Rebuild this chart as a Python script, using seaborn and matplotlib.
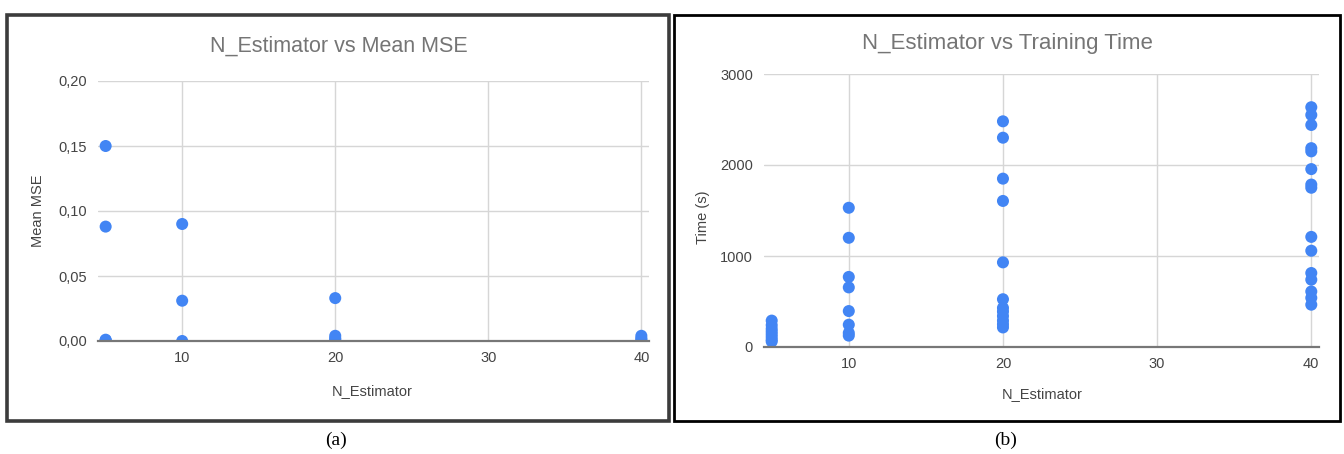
import matplotlib
matplotlib.use("Agg")
import matplotlib.pyplot as plt
import matplotlib.patches as mpatches
from matplotlib.ticker import FuncFormatter
import pandas as pd
import seaborn as sns

# Mean MSE per number of estimators
mse_n = [5, 5, 5, 5, 5, 10, 10, 10, 20, 20, 20, 20, 40, 40, 40]
mse_vals = [0.150, 0.088, 0.001, 0.0005, 0.0,
            0.090, 0.031, 0.0,
            0.033, 0.004, 0.002, 0.001,
            0.004, 0.002, 0.001]

# Training time (s) per number of estimators
time_n = ([5] * 8) + ([10] * 8) + ([20] * 12) + ([40] * 15)
time_vals = [290, 240, 200, 170, 140, 110, 80, 60,
             1530, 1200, 770, 655, 395, 245, 155, 125,
             2480, 2300, 1850, 1605, 930, 525, 430, 390, 340, 290, 250, 215,
             2635, 2550, 2440, 2185, 2150, 1955, 1785, 1750, 1210, 1058,
             813, 740, 610, 540, 465]

x_ticks = [10, 20, 30, 40]
mse_ticks = [0.0, 0.05, 0.10, 0.15, 0.20]
time_ticks = [0, 1000, 2000, 3000]

mse_df = pd.DataFrame({"N_Estimator": mse_n, "Mean MSE": mse_vals})
time_df = pd.DataFrame({"N_Estimator": time_n, "Time (s)": time_vals})

sns.set_theme(style="white")
plt.rcParams["font.family"] = ["Liberation Sans", "DejaVu Sans"]

W, H = 1344, 454
fig = plt.figure(figsize=(W / 100, H / 100), dpi=100)
fig.patch.set_facecolor("white")


def fig_rect(x0, y0, x1, y1):
    """Pixel box (top-left origin) -> figure-fraction rect."""
    return [x0 / W, 1 - y1 / H, (x1 - x0) / W, (y1 - y0) / H]


def fig_pt(x, y):
    return x / W, 1 - y / H


BLUE = "#4285F4"
GRID = "#d6d6d6"
TICK = "#444444"
TITLE = "#757575"


def style_axes(ax, yticks, yfmt, ymax):
    ax.set_xlim(4.5, 40.5)
    ax.set_ylim(0, ymax)
    ax.set_xticks(x_ticks)
    ax.set_yticks(yticks)
    ax.yaxis.set_major_formatter(FuncFormatter(yfmt))
    ax.grid(True, color=GRID, linewidth=1.0)
    ax.set_axisbelow(True)
    for side in ("top", "right", "left"):
        ax.spines[side].set_visible(False)
    ax.spines["bottom"].set_color("#777777")
    ax.spines["bottom"].set_linewidth(1.6)
    ax.spines["bottom"].set_zorder(5)
    ax.tick_params(axis="both", length=0, labelsize=10.5, colors=TICK)
    ax.tick_params(axis="x", pad=7)
    ax.tick_params(axis="y", pad=8)


# Left chart: mean MSE
ax1 = fig.add_axes(fig_rect(98, 81, 649, 341))
sns.scatterplot(data=mse_df, x="N_Estimator", y="Mean MSE", ax=ax1,
                color=BLUE, s=75, edgecolor="none", zorder=3)
style_axes(ax1, mse_ticks, lambda v, _: f"{v:.2f}".replace(".", ","), 0.20)
ax1.set_xlabel("")
ax1.set_ylabel("")
fig.text(*fig_pt(372, 391), "N_Estimator", ha="center", va="center",
         fontsize=10.5, color=TICK)
fig.text(*fig_pt(38, 211), "Mean MSE", ha="center", va="center",
         rotation=90, fontsize=10.5, color=TICK)
fig.text(*fig_pt(339, 46), "N_Estimator vs Mean MSE", ha="center",
         va="center", fontsize=15.5, color=TITLE)

# Right chart: training time
ax2 = fig.add_axes(fig_rect(764, 74, 1319, 347))
sns.scatterplot(data=time_df, x="N_Estimator", y="Time (s)", ax=ax2,
                color=BLUE, s=75, edgecolor="none", zorder=3)
style_axes(ax2, time_ticks, lambda v, _: f"{int(v)}", 3000)
ax2.set_xlabel("")
ax2.set_ylabel("")
fig.text(*fig_pt(1042, 394), "N_Estimator", ha="center", va="center",
         fontsize=10.5, color=TICK)
fig.text(*fig_pt(703, 217), "Time (s)", ha="center", va="center",
         rotation=90, fontsize=10.5, color=TICK)
fig.text(*fig_pt(1007, 43), "N_Estimator vs Training Time", ha="center",
         va="center", fontsize=16, color=TITLE)

# Panel frames
for (x0, y0, x1, y1), col, lw in [((7, 15, 669, 421), "#3c3c3c", 2.6),
                                   ((674, 15, 1340, 421), "#000000", 2.0)]:
    r = fig_rect(x0, y0, x1, y1)
    fig.patches.append(mpatches.Rectangle((r[0], r[1]), r[2], r[3],
                                          transform=fig.transFigure,
                                          fill=False, edgecolor=col,
                                          linewidth=lw))

# Panel captions
for x, lab in [(336, "(a)"), (1006, "(b)")]:
    fig.text(*fig_pt(x, 440), lab, ha="center", va="center",
             fontsize=14, family=["Liberation Serif", "DejaVu Serif"],
             color="black")

fig.savefig("out.png", dpi=100, facecolor="white")
